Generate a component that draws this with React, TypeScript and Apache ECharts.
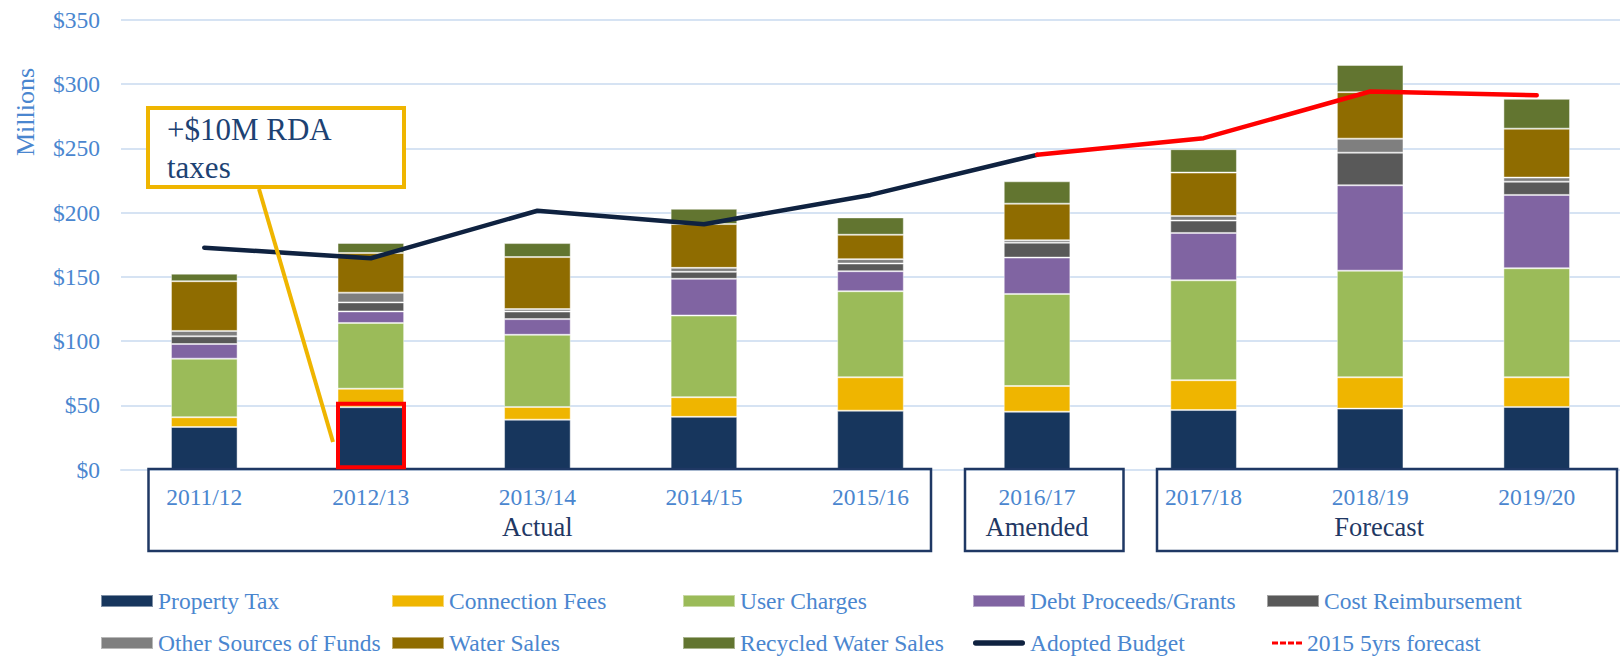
import React, { useEffect, useRef } from "react";
import * as echarts from "echarts";

const categories = ["2011/12", "2012/13", "2013/14", "2014/15", "2015/16", "2016/17", "2017/18", "2018/19", "2019/20"];
const propertyTax = [33.1, 48.5, 38.8, 41.0, 45.8, 45.0, 46.3, 47.4, 48.7];
const connectionFees = [7.6, 14.4, 9.9, 15.3, 26.0, 20.0, 23.2, 24.4, 23.1];
const userCharges = [45.6, 51.2, 56.2, 63.6, 67.0, 71.7, 77.8, 83.0, 84.9];
const debtProceeds = [11.4, 9.0, 12.2, 28.6, 15.6, 28.3, 36.9, 66.5, 57.1];
const costReimbursement = [6.0, 7.0, 5.9, 5.4, 6.0, 11.6, 9.6, 25.4, 10.3];
const otherSources = [4.2, 7.6, 1.9, 3.1, 3.4, 1.9, 3.6, 10.9, 3.2];
const waterSales = [38.7, 30.9, 40.5, 34.1, 19.0, 28.5, 33.8, 36.2, 38.1];
const recycledWaterSales = [5.9, 7.8, 10.9, 11.9, 13.5, 17.4, 18.2, 21.2, 23.2];
const adoptedBudget = [172.7, 164.5, 201.5, 191.0, 213.8, 245.0, null, null, null];
const forecast2015 = [null, null, null, null, null, 245.0, 258.0, 294.3, 291.4];
const yTicks = [0, 50, 100, 150, 200, 250, 300, 350];
const groupLabels: Record<string, string> = { "2013/14": "Actual", "2016/17": "Amended", "2018/19": "Forecast" };

const FONT = "Liberation Serif";
const BLUE = "#4A86CF";
const NAVY = "#1F3864";

export default function App() {
  const ref = useRef<HTMLDivElement>(null);
  useEffect(() => {
    if (!ref.current) return;
    const chart = echarts.init(ref.current, undefined, { renderer: "svg" });
    const barDefs: [string, number[], string][] = [
      ["Property Tax", propertyTax, "#17365D"],
      ["Connection Fees", connectionFees, "#EFB500"],
      ["User Charges", userCharges, "#9BBB59"],
      ["Debt Proceeds/Grants", debtProceeds, "#8064A2"],
      ["Cost Reimbursement", costReimbursement, "#595959"],
      ["Other Sources of Funds", otherSources, "#7F7F7F"],
      ["Water Sales", waterSales, "#8F6C00"],
      ["Recycled Water Sales", recycledWaterSales, "#627530"],
    ];
    const barSeries = barDefs.map(([name, data, color]) => ({
      name,
      type: "bar",
      stack: "total",
      barWidth: "40%",
      data,
      itemStyle: { color, borderColor: "rgba(255,255,255,0.45)", borderWidth: 1 },
    }));
    const legendBase = {
      orient: "vertical",
      top: 586,
      padding: 0,
      itemGap: 12,
      itemWidth: 52,
      itemHeight: 12,
      icon: "rect",
      textStyle: { fontFamily: FONT, fontSize: 23.5, color: BLUE, lineHeight: 30 },
    };
    chart.setOption({
      animation: false,
      textStyle: { fontFamily: FONT },
      grid: { left: 121, top: 20, width: 1508, bottom: 188.5, containLabel: false },
      xAxis: {
        type: "category",
        data: categories,
        axisTick: { show: false },
        axisLine: { lineStyle: { color: "#D6E3F3", width: 2 } },
        axisLabel: {
          interval: 0,
          margin: 12,
          fontFamily: FONT,
          fontSize: 23.5,
          color: BLUE,
          lineHeight: 30,
          formatter: (v: string) => {
            const g = groupLabels[v];
            if (!g) return v;
            return v + "\n{" + (v === "2018/19" ? "f" : "g") + "|" + g + "}";
          },
          rich: {
            g: { fontFamily: FONT, fontSize: 26.5, color: NAVY, lineHeight: 30 },
            f: { fontFamily: FONT, fontSize: 26.5, color: NAVY, lineHeight: 30, padding: [0, 0, 0, 18] },
          },
        },
      },
      yAxis: {
        type: "value",
        min: yTicks[0],
        max: yTicks[yTicks.length - 1],
        interval: 50,
        axisLine: { show: false },
        axisTick: { show: false },
        splitLine: { lineStyle: { color: "#D6E3F3", width: 2 } },
        axisLabel: {
          margin: 21,
          fontFamily: FONT,
          fontSize: 23.5,
          color: BLUE,
          formatter: (v: number) => "$" + v,
        },
      },
      legend: [
        { ...legendBase, left: 100, data: ["Property Tax", "Other Sources of Funds"] },
        { ...legendBase, left: 391, data: ["Connection Fees", "Water Sales"] },
        { ...legendBase, left: 682, data: ["User Charges", "Recycled Water Sales"] },
        {
          ...legendBase,
          left: 972,
          data: [
            "Debt Proceeds/Grants",
            {
              name: "Adopted Budget",
              icon: "path://M3,0H53A3,3 0 0 1 53,6H3A3,3 0 0 1 3,0Z",
              itemStyle: { color: "#0F2240" },
            },
          ],
        },
        { ...legendBase, left: 1266, data: ["Cost Reimbursement"] },
        {
          ...legendBase,
          left: 1272,
          top: 628,
          itemWidth: 30,
          data: [
            {
              name: "2015 5yrs forecast",
              icon: "path://M0,0H6V3H0Z M8,0H14V3H8Z M16,0H22V3H16Z M24,0H30V3H24Z",
              itemStyle: { color: "#FF0000" },
            },
          ],
        },
      ],
      series: [
        ...barSeries,
        {
          name: "Adopted Budget",
          type: "line",
          data: adoptedBudget,
          symbol: "none",
          z: 5,
          lineStyle: { color: "#0F2240", width: 4.5, cap: "round", join: "round" },
          itemStyle: { color: "#0F2240" },
        },
        {
          name: "2015 5yrs forecast",
          type: "line",
          data: forecast2015,
          symbol: "none",
          z: 5,
          lineStyle: { color: "#FF0000", width: 4.5, cap: "round", join: "round" },
          itemStyle: { color: "#FF0000" },
        },
      ],
      graphic: [
        {
          type: "text",
          x: 25,
          y: 112,
          rotation: Math.PI / 2,
          style: { text: "Millions", fontFamily: FONT, fontSize: 26, fill: BLUE, align: "center", verticalAlign: "middle" },
        },
        { type: "rect", z: 10, shape: { x: 148.5, y: 469, width: 782.5, height: 82 }, style: { fill: "none", stroke: NAVY, lineWidth: 2.5 } },
        { type: "rect", z: 10, shape: { x: 965, y: 469, width: 158.5, height: 82 }, style: { fill: "none", stroke: NAVY, lineWidth: 2.5 } },
        { type: "rect", z: 10, shape: { x: 1157, y: 469, width: 460, height: 82 }, style: { fill: "none", stroke: NAVY, lineWidth: 2.5 } },
        { type: "rect", z: 10, shape: { x: 338, y: 403.7, width: 66, height: 63.6 }, style: { fill: "none", stroke: "#FF0000", lineWidth: 4 } },
        { type: "line", z: 10, shape: { x1: 259, y1: 189, x2: 333, y2: 442 }, style: { stroke: "#EFB500", lineWidth: 4 } },
        { type: "rect", z: 10, shape: { x: 148, y: 108, width: 256, height: 79 }, style: { fill: "#FFFFFF", stroke: "#EFB500", lineWidth: 4 } },
        {
          type: "text",
          z: 11,
          x: 167,
          y: 110,
          style: { text: "+$10M RDA\ntaxes", fontFamily: FONT, fontSize: 31, lineHeight: 38, fill: "#1D4273", verticalAlign: "top" },
        },
      ],
    });
    return () => chart.dispose();
  }, []);
  return <div ref={ref} style={{ position: "absolute", left: 0, top: 0, width: 1620, height: 658 }} />;
}
